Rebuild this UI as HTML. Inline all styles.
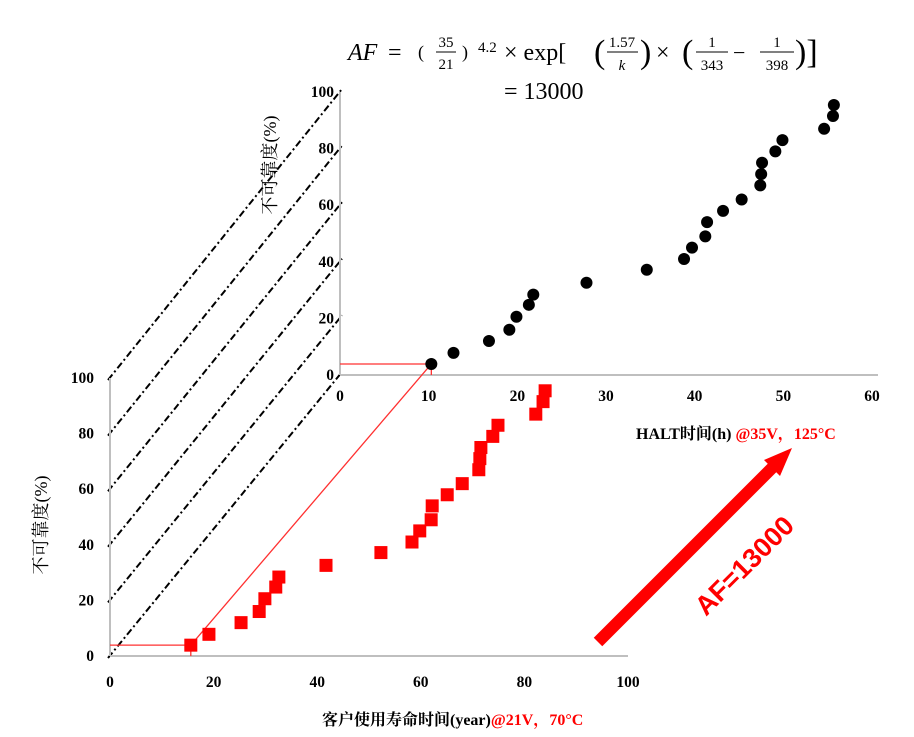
<!DOCTYPE html>
<html><head><meta charset="utf-8"><style>
html,body{margin:0;padding:0;background:#fff}
svg{display:block}
</style></head><body>
<svg id="chart" width="914" height="737" viewBox="0 0 914 737" xmlns="http://www.w3.org/2000/svg">
<g fill="#000" style="font-family:'Liberation Serif',serif;font-weight:normal">
 <text x="348" y="60" style="font-size:24px;font-style:italic">AF</text>
 <text x="388" y="60" style="font-size:24px">=</text>
 <text x="418" y="58" style="font-size:18px">(</text>
 <text x="446" y="47" style="font-size:15px" text-anchor="middle">35</text>
 <line x1="436" y1="52" x2="456" y2="52" stroke="#000" stroke-width="1"/>
 <text x="446" y="69" style="font-size:15px" text-anchor="middle">21</text>
 <text x="462" y="58" style="font-size:18px">)</text>
 <text x="478" y="52" style="font-size:15px">4.2</text>
 <text x="504" y="60" style="font-size:24px">× exp[</text>
 <text x="594" y="63" style="font-size:34px">(</text>
 <text x="622" y="47" style="font-size:15px" text-anchor="middle">1.57</text>
 <line x1="607" y1="52" x2="638" y2="52" stroke="#000" stroke-width="1"/>
 <text x="622" y="70" style="font-size:15px;font-style:italic" text-anchor="middle">k</text>
 <text x="640" y="63" style="font-size:34px">)</text>
 <text x="656" y="60" style="font-size:24px">×</text>
 <text x="682" y="63" style="font-size:34px">(</text>
 <text x="712" y="47" style="font-size:15px" text-anchor="middle">1</text>
 <line x1="696" y1="52" x2="728" y2="52" stroke="#000" stroke-width="1"/>
 <text x="712" y="70" style="font-size:15px" text-anchor="middle">343</text>
 <text x="733" y="60" style="font-size:22px">−</text>
 <text x="777" y="47" style="font-size:15px" text-anchor="middle">1</text>
 <line x1="760" y1="52" x2="794" y2="52" stroke="#000" stroke-width="1"/>
 <text x="777" y="70" style="font-size:15px" text-anchor="middle">398</text>
 <text x="795" y="63" style="font-size:34px">)]</text>
 <text x="504" y="99" style="font-size:24px">= 13000</text>
</g>
<g id="guides"></g>
<g id="axes"></g>
<g id="marks"></g>
<g>
 <line x1="598" y1="642" x2="778" y2="462" stroke="#ff0000" stroke-width="12"/>
 <polygon points="792,448 764,460 780,476" fill="#ff0000"/>
 <text x="0" y="0" transform="translate(706,617) rotate(-45)" style="font-family:'Liberation Sans',sans-serif;font-size:27px;font-weight:bold" fill="#ff0000">AF=13000</text>
</g>
</svg>
<script>
const yTicks=[0,20,40,60,80,100];
const upperXTicks=[0,10,20,30,40,50,60];
const lowerXTicks=[0,20,40,60,80,100];
const unreliability=[3.9,7.8,12,16,20.6,24.8,28.4,32.6,37.2,41,45,49,54,58,62,67,71,75,79,83,87,91.5,95.4];
const haltHours=[10.3,12.8,16.8,19.1,19.9,21.3,21.8,27.8,34.6,38.8,39.7,41.2,41.4,43.2,45.3,47.4,47.5,47.6,49.1,49.9,54.6,55.6,55.7];
const lifeYears=[15.6,19.1,25.3,28.8,29.9,32.0,32.6,41.7,52.3,58.3,59.8,62.0,62.2,65.1,68.0,71.2,71.4,71.6,73.9,74.9,82.2,83.6,84.0];

const NS="http://www.w3.org/2000/svg";
const uX=v=>340+v*(873-341)/60, uY=v=>375-v*2.83;
const lX=v=>110+v*5.18, lY=v=>656-v*2.78;
const BOLD="font-family:'Liberation Serif','Noto Serif CJK SC',serif;font-weight:bold;";
function mk(tag,attrs,parent,txt){const e=document.createElementNS(NS,tag);for(const k in attrs)e.setAttribute(k,attrs[k]);if(txt!==undefined)e.textContent=txt;parent.appendChild(e);return e;}
const guides=document.getElementById('guides'),axes=document.getElementById('axes'),marks=document.getElementById('marks');

yTicks.forEach(v=>{
  const l=mk('line',{x1:lX(0)-2,y1:lY(v)+2,x2:uX(0)+2,y2:uY(v)-3,stroke:'#000','stroke-width':2,'stroke-dasharray':'7,3,2,3'},guides);
  
  
});

let a=mk('line',{x1:uX(0),y1:uY(0),x2:uX(60)+6,y2:uY(0),stroke:'#bfbfbf','stroke-width':2},axes);

a=mk('line',{x1:uX(0),y1:uY(0),x2:uX(0),y2:uY(100),stroke:'#bfbfbf','stroke-width':2},axes);

a=mk('line',{x1:lX(0),y1:lY(0),x2:lX(100),y2:lY(0),stroke:'#bfbfbf','stroke-width':2},axes);

a=mk('line',{x1:lX(0),y1:lY(0),x2:lX(0),y2:lY(100),stroke:'#bfbfbf','stroke-width':2},axes);


yTicks.forEach(v=>{
  let t=mk('text',{x:uX(0)-6,y:uY(v)+5,'text-anchor':'end',style:BOLD+'font-size:15.5px'},axes,String(v));
  
  t=mk('text',{x:lX(0)-16,y:lY(v)+5,'text-anchor':'end',style:BOLD+'font-size:15.5px'},axes,String(v));
  
});
upperXTicks.forEach(v=>{
  const t=mk('text',{x:uX(v),y:uY(0)+26,'text-anchor':'middle',style:BOLD+'font-size:15.5px'},axes,String(v));
  
});
lowerXTicks.forEach(v=>{
  const t=mk('text',{x:lX(v),y:lY(0)+31,'text-anchor':'middle',style:BOLD+'font-size:15.5px'},axes,String(v));
  
});
let t=mk('text',{x:0,y:0,transform:'translate(276,165) rotate(-90)','text-anchor':'middle',style:"font-family:'Liberation Serif','Noto Serif CJK SC',serif;font-size:18px"},axes,'不可靠度(%)');

t=mk('text',{x:0,y:0,transform:'translate(47,525) rotate(-90)','text-anchor':'middle',style:"font-family:'Liberation Serif','Noto Serif CJK SC',serif;font-size:18px"},axes,'不可靠度(%)');

t=mk('text',{x:636,y:439,style:BOLD+'font-size:16px'},axes);

mk('tspan',{},t,'HALT时间(h) ');mk('tspan',{fill:'#ff0000'},t,'@35V，125°C');
t=mk('text',{x:322,y:725,style:BOLD+'font-size:16px'},axes);

mk('tspan',{},t,'客户使用寿命时间(year)');mk('tspan',{fill:'#ff0000'},t,'@21V，70°C');

const r0=unreliability[0];
[[lX(0),lY(r0),lX(lifeYears[0]),lY(r0)],[lX(lifeYears[0]),lY(r0),lX(lifeYears[0]),lY(0)],
 [uX(0),uY(r0),uX(haltHours[0]),uY(r0)],[uX(haltHours[0]),uY(r0),uX(haltHours[0]),uY(0)],
 [lX(lifeYears[0]),lY(r0),uX(haltHours[0]),uY(r0)]].forEach((c,i)=>{
  const l=mk('line',{x1:c[0],y1:c[1],x2:c[2],y2:c[3],stroke:'#ff3030','stroke-width':1.3},marks);
  
});

unreliability.forEach((v,i)=>{
  const c=mk('circle',{cx:uX(haltHours[i]),cy:uY(v),r:6,fill:'#000'},marks);
  
  const s=mk('rect',{x:lX(lifeYears[i])-6.5,y:lY(v)-6.5,width:13,height:13,fill:'#ff0000'},marks);
  
});
</script>
</body></html>
